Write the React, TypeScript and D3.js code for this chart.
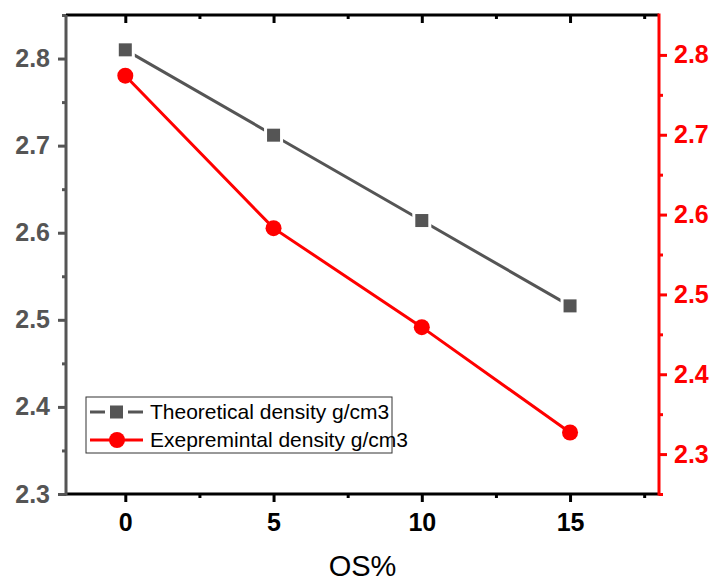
import React, { useEffect, useRef } from 'react';
import * as d3 from 'd3';

const osPercent = [0, 5, 10, 15];
const theoretical = [2.81, 2.712, 2.614, 2.516];
const experimental = [2.774, 2.583, 2.459, 2.327];
const xTicks = [0, 5, 10, 15];
const leftTicks = [2.3, 2.4, 2.5, 2.6, 2.7, 2.8];
const rightTicks = [2.3, 2.4, 2.5, 2.6, 2.7, 2.8];
const seriesNames = ['Theoretical density g/cm3', 'Exepremintal density g/cm3'];

const GRAY = '#555555';
const RED = '#ff0000';
const FONT = 'Liberation Sans, Arial, sans-serif';

const App = () => {
    const ref = useRef<SVGSVGElement>(null);

    useEffect(() => {
        const width = 712;
        const height = 581;
        const m = { left: 66, right: 659, top: 15, bottom: 494 };
        const svg = d3.select(ref.current).attr('width', width).attr('height', height);
        svg.selectAll('*').remove();

        const x = d3.scaleLinear().domain([-2, 18]).range([m.left, m.right]);
        const yL = d3.scaleLinear().domain([2.3, 2.85]).range([m.bottom, m.top]);
        const yR = d3.scaleLinear().domain([2.25, 2.85]).range([m.bottom, m.top]);

        const minor = (g, axis, color) => {
            g.call(axis.tickSize(4).tickFormat(() => ''));
            g.select('.domain').remove();
            g.selectAll('line').attr('stroke', color).attr('stroke-width', 3);
        };

        // bottom axis
        const bottom = svg.append('g').attr('transform', `translate(0,${m.bottom})`)
            .call(d3.axisBottom(x).tickValues(xTicks).tickSize(8).tickFormat(d3.format('d')));
        bottom.select('.domain').remove();
        bottom.selectAll('line').attr('stroke', '#000').attr('stroke-width', 3);
        bottom.selectAll('text').attr('font-family', FONT).attr('font-weight', 'bold')
            .attr('font-size', 25).attr('fill', '#000').attr('y', 19).attr('dy', '0.71em');
        minor(svg.append('g').attr('transform', `translate(0,${m.bottom})`),
            d3.axisBottom(x).tickValues([2.5, 7.5, 12.5, 17.5]), '#000');

        // top axis (ticks inward)
        const top = svg.append('g').attr('transform', `translate(0,${m.top})`)
            .call(d3.axisBottom(x).tickValues(xTicks).tickSize(8).tickFormat(() => ''));
        top.select('.domain').remove();
        top.selectAll('line').attr('stroke', '#000').attr('stroke-width', 3);
        minor(svg.append('g').attr('transform', `translate(0,${m.top})`),
            d3.axisBottom(x).tickValues([2.5, 7.5, 12.5, 17.5]), '#000');

        // left axis
        const left = svg.append('g').attr('transform', `translate(${m.left},0)`)
            .call(d3.axisLeft(yL).tickValues(leftTicks).tickSize(8).tickFormat(d3.format('.1f')));
        left.select('.domain').remove();
        left.selectAll('line').attr('stroke', GRAY).attr('stroke-width', 3);
        left.selectAll('text').attr('font-family', FONT).attr('font-weight', 'bold')
            .attr('font-size', 25).attr('fill', GRAY).attr('x', -16);
        minor(svg.append('g').attr('transform', `translate(${m.left},0)`),
            d3.axisLeft(yL).tickValues([2.35, 2.45, 2.55, 2.65, 2.75, 2.85]), GRAY);

        // right axis
        const right = svg.append('g').attr('transform', `translate(${m.right},0)`)
            .call(d3.axisRight(yR).tickValues(rightTicks).tickSize(8).tickFormat(d3.format('.1f')));
        right.select('.domain').remove();
        right.selectAll('line').attr('stroke', RED).attr('stroke-width', 3);
        right.selectAll('text').attr('font-family', FONT).attr('font-weight', 'bold')
            .attr('font-size', 25).attr('fill', RED).attr('x', 15);
        minor(svg.append('g').attr('transform', `translate(${m.right},0)`),
            d3.axisRight(yR).tickValues([2.25, 2.35, 2.45, 2.55, 2.65, 2.75]), RED);

        // frame lines
        svg.append('line').attr('x1', m.left).attr('x2', m.right).attr('y1', m.top).attr('y2', m.top)
            .attr('stroke', '#000').attr('stroke-width', 3);
        svg.append('line').attr('x1', m.left).attr('x2', m.right).attr('y1', m.bottom).attr('y2', m.bottom)
            .attr('stroke', '#000').attr('stroke-width', 3);
        svg.append('line').attr('x1', m.left).attr('x2', m.left).attr('y1', m.top).attr('y2', m.bottom + 1.5)
            .attr('stroke', GRAY).attr('stroke-width', 3);
        svg.append('line').attr('x1', m.right).attr('x2', m.right).attr('y1', m.top - 1.5).attr('y2', m.bottom + 1.5)
            .attr('stroke', RED).attr('stroke-width', 3);

        // series
        const lineL = d3.line<number>().x((_, i) => x(osPercent[i])).y(d => yL(d));
        const lineR = d3.line<number>().x((_, i) => x(osPercent[i])).y(d => yR(d));

        svg.append('path').datum(theoretical).attr('d', lineL).attr('fill', 'none')
            .attr('stroke', GRAY).attr('stroke-width', 3);
        svg.selectAll('rect.halo').data(theoretical).enter().append('rect').attr('class', 'halo')
            .attr('x', (_, i) => x(osPercent[i]) - 9.5).attr('y', d => yL(d) - 9.5)
            .attr('width', 19).attr('height', 19).attr('fill', 'white');
        svg.selectAll('rect.pt').data(theoretical).enter().append('rect').attr('class', 'pt')
            .attr('x', (_, i) => x(osPercent[i]) - 6.5).attr('y', d => yL(d) - 6.5)
            .attr('width', 13).attr('height', 13).attr('fill', GRAY);

        svg.append('path').datum(experimental).attr('d', lineR).attr('fill', 'none')
            .attr('stroke', RED).attr('stroke-width', 3);
        svg.selectAll('circle.pt').data(experimental).enter().append('circle').attr('class', 'pt')
            .attr('cx', (_, i) => x(osPercent[i])).attr('cy', d => yR(d))
            .attr('r', 8).attr('fill', RED);

        // legend
        const lg = svg.append('g');
        lg.append('rect').attr('x', 86).attr('y', 397).attr('width', 306).attr('height', 56)
            .attr('fill', 'white').attr('stroke', '#333').attr('stroke-width', 1);
        const rowY = [412, 440];
        lg.append('line').attr('x1', 90).attr('x2', 105).attr('y1', rowY[0]).attr('y2', rowY[0])
            .attr('stroke', GRAY).attr('stroke-width', 3);
        lg.append('line').attr('x1', 128).attr('x2', 143).attr('y1', rowY[0]).attr('y2', rowY[0])
            .attr('stroke', GRAY).attr('stroke-width', 3);
        lg.append('rect').attr('x', 110).attr('y', rowY[0] - 6.5).attr('width', 13).attr('height', 13).attr('fill', GRAY);
        lg.append('line').attr('x1', 90).attr('x2', 143).attr('y1', rowY[1]).attr('y2', rowY[1])
            .attr('stroke', RED).attr('stroke-width', 3);
        lg.append('circle').attr('cx', 117).attr('cy', rowY[1]).attr('r', 8).attr('fill', RED);
        lg.selectAll('text.lbl').data(seriesNames).enter().append('text').attr('class', 'lbl')
            .attr('x', 150).attr('y', (_, i) => rowY[i]).attr('dy', '0.35em')
            .attr('font-family', FONT).attr('font-size', 21).attr('fill', '#000')
            .text(d => d);

        // x title
        svg.append('text').attr('x', x(8)).attr('y', 576).attr('text-anchor', 'middle')
            .attr('font-family', FONT).attr('font-size', 29).attr('fill', '#000').text('OS%');
    }, []);

    return (
        <svg ref={ref} style={{ position: 'absolute', left: 0, top: 0 }}></svg>
    );
};

export default App;
